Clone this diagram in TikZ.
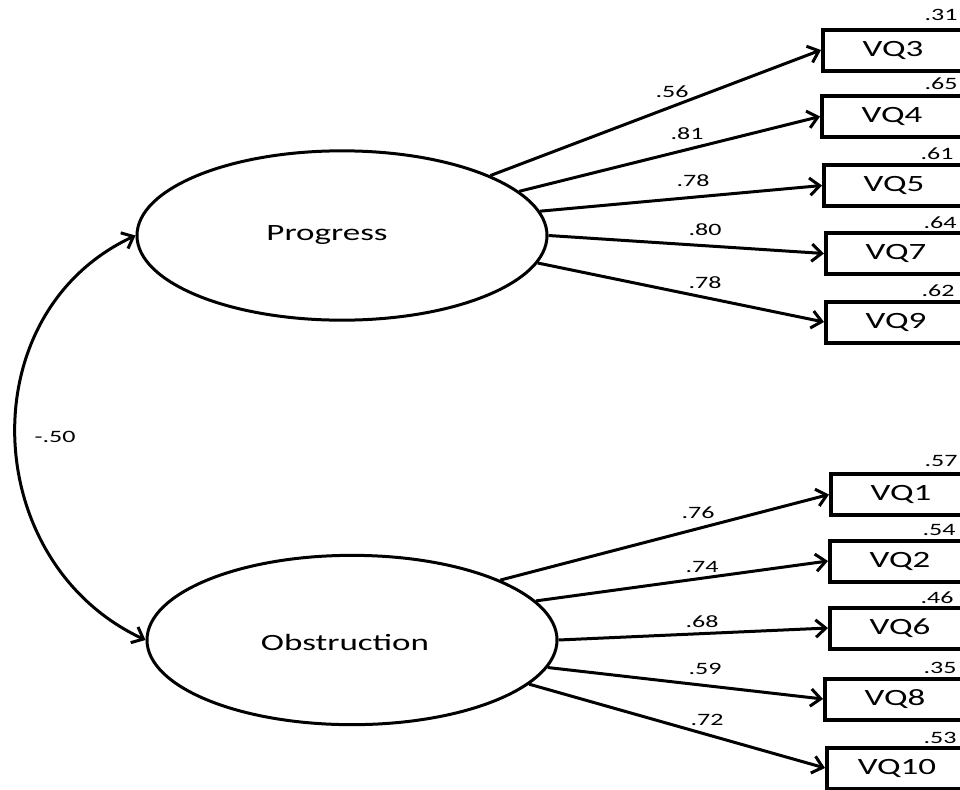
\documentclass[tikz,border=0pt]{standalone}
\usepackage{fontspec}
\setmainfont{Carlito}[FakeStretch=1.5]
\usetikzlibrary{arrows.meta,shapes.geometric}
\begin{document}
\begin{tikzpicture}[x=0.75pt,y=-0.75pt,
  latent/.style={ellipse, draw, line width=2.25pt, minimum width=307.5pt, minimum height=127pt, inner sep=0pt},
  lattext/.style={font=\fontsize{17.5pt}{20pt}\selectfont, inner sep=0pt},
  obsbox/.style={rectangle, draw, line width=3pt, minimum width=105pt, minimum height=30.75pt, inner sep=0pt, font=\fontsize{17.5pt}{20pt}\selectfont},
  lbl/.style={font=\fontsize{13pt}{15pt}\selectfont, inner sep=0pt},
  tip/.tip={Straight Barb[length=7.5pt,width=13pt]},
  conn/.style={line width=2.25pt, -tip},
  cov/.style={line width=2.25pt, tip-tip}]
\useasboundingbox (0,0) rectangle (960,789);

% latent variables
\node[latent] (prog) at (342,235.5) {};
\node[lattext] (progt) at (327,235) {Progress};
\node[latent] (obs) at (352,640) {};
\node[lattext] (obst) at (345,642) {Obstruction};

% observed variables
\node[obsbox] (vq3) at (893,50) {VQ3};
\node[obsbox] (vq4) at (892,116.5) {VQ4};
\node[obsbox] (vq5) at (894,185.5) {VQ5};
\node[obsbox] (vq7) at (896,253.5) {VQ7};
\node[obsbox] (vq9) at (896,322) {VQ9};
\node[obsbox] (vq1) at (901,494.5) {VQ1};
\node[obsbox] (vq2) at (900,561) {VQ2};
\node[obsbox] (vq6) at (900,628) {VQ6};
\node[obsbox] (vq8) at (895,699) {VQ8};
\node[obsbox] (vq10) at (897,768) {VQ10};

% R-squared
\node[lbl] (r3) at (941,15) {.31};
\node[lbl] (r4) at (941,84) {.65};
\node[lbl] (r5) at (937,154) {.61};
\node[lbl] (r7) at (940,223) {.64};
\node[lbl] (r9) at (938,291) {.62};
\node[lbl] (r1) at (941,461) {.57};
\node[lbl] (r2) at (939,530) {.54};
\node[lbl] (r6) at (937,598) {.46};
\node[lbl] (r8) at (940,668) {.35};
\node[lbl] (r10) at (940,738) {.53};

% loadings
\draw[conn] (prog.22.6) -- (vq3.west);
\draw[conn] (prog.14.1) -- (vq4.west);
\draw[conn] (prog.7.3) -- (vq5.west);
\draw[conn] (prog.0.4) -- (vq7.west);
\draw[conn] (prog.-8) -- (vq9.west);
\draw[conn] (obs.22) -- (vq1.west);
\draw[conn] (obs.12) -- (vq2.west);
\draw[conn] (obs.0) -- (vq6.west);
\draw[conn] (obs.-8.2) -- (vq8.west);
\draw[conn] (obs.-14) -- (vq10.west);

\node[lbl] (l3) at (672,92) {.56};
\node[lbl] (l4) at (687,134) {.81};
\node[lbl] (l5) at (693,181) {.78};
\node[lbl] (l7) at (705,230) {.80};
\node[lbl] (l9) at (705,283) {.78};
\node[lbl] (l1) at (698,513) {.76};
\node[lbl] (l2) at (702,567) {.74};
\node[lbl] (l6) at (702,622) {.68};
\node[lbl] (l8) at (705,669) {.59};
\node[lbl] (l10) at (707,720) {.72};

% covariance
\draw[cov] (prog.west) to[out=205,in=155,looseness=1.16] (obs.west);
\node[lbl] (lc) at (55,437) {-.50};
\end{tikzpicture}
\end{document}
